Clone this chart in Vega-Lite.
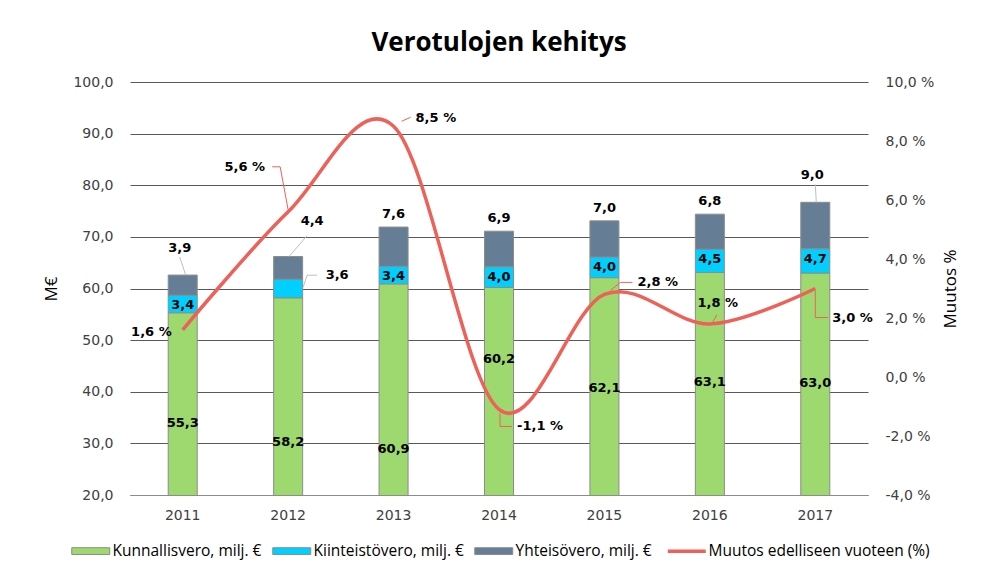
{
  "$schema": "https://vega.github.io/schema/vega-lite/v6.json",
  "width": 738,
  "height": 413,
  "autosize": {"type": "none"},
  "padding": {"left": 130, "top": 82, "right": 118, "bottom": 80},
  "background": "white",
  "config": {
    "locale": {"number": {"decimal": ",", "thousands": "\u00a0", "grouping": [3], "currency": ["", " €"], "minus": "-"}},
    "view": {"stroke": null},
    "font": "DejaVu Sans",
    "axis": {"labelFont": "DejaVu Sans", "labelFontSize": 14, "labelColor": "#404040", "ticks": false, "domain": false, "titleFont": "Liberation Sans Narrow, Open Sans", "titleFontSize": 17, "titleFontWeight": "normal", "titleColor": "#000000"},
    "text": {"font": "DejaVu Sans", "fontSize": 13, "fontWeight": "bold", "color": "#000000", "baseline": "middle"}
  },
  "title": {"text": "Verotulojen kehitys", "font": "Open Sans", "fontSize": 26, "fontWeight": "bold", "color": "#000000", "anchor": "middle", "offset": 19},
  "datasets": {
    "bars": [
      {"year": 2011, "series": "Kunnallisvero, milj. €", "k": 1, "value": 55.3},
      {"year": 2011, "series": "Kiinteistövero, milj. €", "k": 2, "value": 3.4},
      {"year": 2011, "series": "Yhteisövero, milj. €", "k": 3, "value": 3.9},
      {"year": 2012, "series": "Kunnallisvero, milj. €", "k": 1, "value": 58.2},
      {"year": 2012, "series": "Kiinteistövero, milj. €", "k": 2, "value": 3.6},
      {"year": 2012, "series": "Yhteisövero, milj. €", "k": 3, "value": 4.4},
      {"year": 2013, "series": "Kunnallisvero, milj. €", "k": 1, "value": 60.9},
      {"year": 2013, "series": "Kiinteistövero, milj. €", "k": 2, "value": 3.4},
      {"year": 2013, "series": "Yhteisövero, milj. €", "k": 3, "value": 7.6},
      {"year": 2014, "series": "Kunnallisvero, milj. €", "k": 1, "value": 60.2},
      {"year": 2014, "series": "Kiinteistövero, milj. €", "k": 2, "value": 4.0},
      {"year": 2014, "series": "Yhteisövero, milj. €", "k": 3, "value": 6.9},
      {"year": 2015, "series": "Kunnallisvero, milj. €", "k": 1, "value": 62.1},
      {"year": 2015, "series": "Kiinteistövero, milj. €", "k": 2, "value": 4.0},
      {"year": 2015, "series": "Yhteisövero, milj. €", "k": 3, "value": 7.0},
      {"year": 2016, "series": "Kunnallisvero, milj. €", "k": 1, "value": 63.1},
      {"year": 2016, "series": "Kiinteistövero, milj. €", "k": 2, "value": 4.5},
      {"year": 2016, "series": "Yhteisövero, milj. €", "k": 3, "value": 6.8},
      {"year": 2017, "series": "Kunnallisvero, milj. €", "k": 1, "value": 63.0},
      {"year": 2017, "series": "Kiinteistövero, milj. €", "k": 2, "value": 4.7},
      {"year": 2017, "series": "Yhteisövero, milj. €", "k": 3, "value": 9.0}
    ],
    "line": [
      {"year": 2011, "pct": 1.6},
      {"year": 2012, "pct": 5.6},
      {"year": 2013, "pct": 8.5},
      {"year": 2014, "pct": -1.1},
      {"year": 2015, "pct": 2.8},
      {"year": 2016, "pct": 1.8},
      {"year": 2017, "pct": 3.0}
    ]
  },
  "encoding": {
    "x": {"field": "year", "type": "ordinal", "scale": {"paddingInner": 0, "paddingOuter": 0}, "axis": {"title": null, "labelAngle": 0, "domain": true, "domainColor": "#8c8c8c", "labelPadding": 13, "labelColor": "#404040"}}
  },
  "layer": [
    {
      "data": {"name": "bars"},
      "transform": [{"stack": "value", "groupby": ["year"], "sort": [{"field": "k", "order": "ascending"}], "as": ["v0", "v1"]}],
      "encoding": {
        "y": {"field": "v1", "type": "quantitative", "scale": {"domain": [20, 100], "nice": false, "zero": false}, "axis": {"title": "M€", "values": [20, 30, 40, 50, 60, 70, 80, 90, 100], "format": ".1f", "grid": true, "gridColor": "#595959", "gridWidth": 1, "labelPadding": 17, "titlePadding": 12}}
      },
      "layer": [
        {
          "mark": {"type": "bar", "size": 29, "stroke": "#8c8c8c", "strokeWidth": 1, "clip": true},
          "encoding": {
            "y2": {"field": "v0"},
            "color": {"field": "series", "type": "nominal",
              "scale": {"domain": ["Kunnallisvero, milj. €", "Kiinteistövero, milj. €", "Yhteisövero, milj. €", "Muutos edelliseen vuoteen (%)"], "range": ["#9DD96F", "#00D0FF", "#657E96", "#EE6158"]},
              "legend": {"orient": "none", "legendX": -47, "legendY": 461, "direction": "horizontal", "title": null, "padding": 0,
                "labelFont": "Liberation Sans Narrow, Open Sans", "labelFontSize": 15.5, "labelColor": "#000000", "labelLimit": 400,
                "symbolType": "M-1,-0.18H1V0.18H-1Z", "symbolSize": 1444, "labelOffset": 14, "columnPadding": 8, "symbolStrokeWidth": 1, "symbolStrokeColor": "#8c8c8c", "symbolOpacity": 1,
                "encode": {"symbols": {"update": {
                  "shape": {"signal": "datum.value === 'Muutos edelliseen vuoteen (%)' ? 'stroke' : 'M-1,-0.18H1V0.18H-1Z'"},
                  "stroke": {"signal": "datum.value === 'Muutos edelliseen vuoteen (%)' ? '#EE6158' : '#8c8c8c'"},
                  "strokeWidth": {"signal": "datum.value === 'Muutos edelliseen vuoteen (%)' ? 3.5 : 1"}
                }}}
              }
            },
            "order": {"field": "k"}
          }
        },
        {
          "transform": [{"filter": "datum.k == 1 && (datum.year == 2011 || datum.year >= 2015)"}],
          "mark": {"type": "text", "dy": 110},
          "encoding": {"text": {"field": "value", "type": "quantitative", "format": ".1f"}}
        },
        {
          "transform": [{"filter": "datum.k == 1 && datum.year == 2012"}],
          "mark": {"type": "text", "dy": 144},
          "encoding": {"text": {"field": "value", "type": "quantitative", "format": ".1f"}}
        },
        {
          "transform": [{"filter": "datum.k == 1 && datum.year == 2013"}],
          "mark": {"type": "text", "dy": 165},
          "encoding": {"text": {"field": "value", "type": "quantitative", "format": ".1f"}}
        },
        {
          "transform": [{"filter": "datum.k == 1 && datum.year == 2014"}],
          "mark": {"type": "text", "dy": 72},
          "encoding": {"text": {"field": "value", "type": "quantitative", "format": ".1f"}}
        },
        {
          "transform": [{"filter": "datum.k == 2 && datum.year != 2012"}],
          "mark": {"type": "text", "dy": 10},
          "encoding": {"text": {"field": "value", "type": "quantitative", "format": ".1f"}}
        },
        {
          "transform": [{"filter": "datum.k == 2 && datum.year == 2012"}],
          "mark": {"type": "text", "dx": 49, "dy": -4},
          "encoding": {"text": {"field": "value", "type": "quantitative", "format": ".1f"}}
        },
        {
          "transform": [{"filter": "datum.k == 3 && datum.year != 2011 && datum.year != 2012 && datum.year != 2017"}],
          "mark": {"type": "text", "dy": -13},
          "encoding": {"text": {"field": "value", "type": "quantitative", "format": ".1f"}}
        },
        {
          "transform": [{"filter": "datum.k == 3 && (datum.year == 2011 || datum.year == 2017)"}],
          "mark": {"type": "text", "dy": -27, "dx": -3},
          "encoding": {"text": {"field": "value", "type": "quantitative", "format": ".1f"}}
        },
        {
          "transform": [{"filter": "datum.k == 3 && datum.year == 2012"}],
          "mark": {"type": "text", "dy": -35, "dx": 24},
          "encoding": {"text": {"field": "value", "type": "quantitative", "format": ".1f"}}
        },
        {
          "transform": [{"filter": "datum.k == 3 && datum.year == 2011"}],
          "mark": {"type": "rule", "color": "#bfbfbf", "strokeWidth": 1, "xOffset": -3, "yOffset": -18, "x2Offset": 3, "y2Offset": 0},
          "encoding": {"x2": {"field": "year"}, "y2": {"field": "v1"}}
        },
        {
          "transform": [{"filter": "datum.k == 3 && datum.year == 2012"}],
          "mark": {"type": "rule", "color": "#bfbfbf", "strokeWidth": 1, "xOffset": 19, "yOffset": -21, "x2Offset": 1, "y2Offset": 0},
          "encoding": {"x2": {"field": "year"}, "y2": {"field": "v1"}}
        },
        {
          "transform": [{"filter": "datum.k == 3 && datum.year == 2017"}],
          "mark": {"type": "rule", "color": "#bfbfbf", "strokeWidth": 1, "xOffset": 0, "yOffset": -18, "x2Offset": 1, "y2Offset": 0},
          "encoding": {"x2": {"field": "year"}, "y2": {"field": "v1"}}
        },
        {
          "transform": [{"filter": "datum.k == 2 && datum.year == 2012"}],
          "mark": {"type": "rule", "color": "#bfbfbf", "strokeWidth": 1, "xOffset": 29, "yOffset": -4, "x2Offset": 19, "y2Offset": -4},
          "encoding": {"x2": {"field": "year"}, "y2": {"field": "v1"}}
        },
        {
          "transform": [{"filter": "datum.k == 2 && datum.year == 2012"}],
          "mark": {"type": "rule", "color": "#bfbfbf", "strokeWidth": 1, "xOffset": 19, "yOffset": -4, "x2Offset": 15, "y2Offset": 8},
          "encoding": {"x2": {"field": "year"}, "y2": {"field": "v1"}}
        }
      ]
    },
    {
      "data": {"name": "line"},
      "transform": [{"calculate": "format(datum.pct, '.1f') + ' %'", "as": "lbl"}],
      "encoding": {
        "y": {"field": "pct", "type": "quantitative", "scale": {"domain": [-4, 10], "nice": false, "zero": false},
          "axis": {"orient": "right", "title": "Muutos %", "titleAngle": 270, "values": [-4, -2, 0, 2, 4, 6, 8, 10], "labelExpr": "format(datum.value, '.1f') + ' %'", "grid": false, "labelPadding": 17, "titlePadding": 26}}
      },
      "layer": [
        {
          "mark": {"type": "line", "interpolate": "cardinal", "color": "#EE6158", "strokeWidth": 3.5}
        },
        {"transform": [{"filter": "datum.year == 2011"}], "mark": {"type": "text", "align": "right", "dx": -11, "dy": 2}, "encoding": {"text": {"field": "lbl"}}},
        {"transform": [{"filter": "datum.year == 2012"}], "mark": {"type": "text", "align": "right", "dx": -23, "dy": -45}, "encoding": {"text": {"field": "lbl"}}},
        {"transform": [{"filter": "datum.year == 2013"}], "mark": {"type": "text", "align": "left", "dx": 22, "dy": -8}, "encoding": {"text": {"field": "lbl"}}},
        {"transform": [{"filter": "datum.year == 2014"}], "mark": {"type": "text", "align": "left", "dx": 18, "dy": 17}, "encoding": {"text": {"field": "lbl"}}},
        {"transform": [{"filter": "datum.year == 2015"}], "mark": {"type": "text", "align": "left", "dx": 33, "dy": -12}, "encoding": {"text": {"field": "lbl"}}},
        {"transform": [{"filter": "datum.year == 2016"}], "mark": {"type": "text", "align": "center", "dx": 8, "dy": -21}, "encoding": {"text": {"field": "lbl"}}},
        {"transform": [{"filter": "datum.year == 2017"}], "mark": {"type": "text", "align": "left", "dx": 17, "dy": 29}, "encoding": {"text": {"field": "lbl"}}},
        {"transform": [{"filter": "datum.year == 2012"}], "mark": {"type": "rule", "color": "#EE6158", "strokeWidth": 1, "xOffset": -16, "yOffset": -45, "x2Offset": -8, "y2Offset": -45}, "encoding": {"x2": {"field": "year"}, "y2": {"field": "pct"}}},
        {"transform": [{"filter": "datum.year == 2012"}], "mark": {"type": "rule", "color": "#EE6158", "strokeWidth": 1, "xOffset": -8, "yOffset": -45, "x2Offset": 0, "y2Offset": -2}, "encoding": {"x2": {"field": "year"}, "y2": {"field": "pct"}}},
        {"transform": [{"filter": "datum.year == 2013"}], "mark": {"type": "rule", "color": "#EE6158", "strokeWidth": 1, "xOffset": 8, "yOffset": -5, "x2Offset": 17, "y2Offset": -9}, "encoding": {"x2": {"field": "year"}, "y2": {"field": "pct"}}},
        {"transform": [{"filter": "datum.year == 2014"}], "mark": {"type": "rule", "color": "#EE6158", "strokeWidth": 1, "xOffset": 1, "yOffset": 4, "x2Offset": 1, "y2Offset": 17}, "encoding": {"x2": {"field": "year"}, "y2": {"field": "pct"}}},
        {"transform": [{"filter": "datum.year == 2014"}], "mark": {"type": "rule", "color": "#EE6158", "strokeWidth": 1, "xOffset": 1, "yOffset": 17, "x2Offset": 13, "y2Offset": 17}, "encoding": {"x2": {"field": "year"}, "y2": {"field": "pct"}}},
        {"transform": [{"filter": "datum.year == 2015"}], "mark": {"type": "rule", "color": "#EE6158", "strokeWidth": 1, "xOffset": 6, "yOffset": -4, "x2Offset": 16, "y2Offset": -12}, "encoding": {"x2": {"field": "year"}, "y2": {"field": "pct"}}},
        {"transform": [{"filter": "datum.year == 2015"}], "mark": {"type": "rule", "color": "#EE6158", "strokeWidth": 1, "xOffset": 16, "yOffset": -12, "x2Offset": 28, "y2Offset": -12}, "encoding": {"x2": {"field": "year"}, "y2": {"field": "pct"}}},
        {"transform": [{"filter": "datum.year == 2016"}], "mark": {"type": "rule", "color": "#EE6158", "strokeWidth": 1, "xOffset": 3, "yOffset": -2, "x2Offset": 7, "y2Offset": -9}, "encoding": {"x2": {"field": "year"}, "y2": {"field": "pct"}}},
        {"transform": [{"filter": "datum.year == 2017"}], "mark": {"type": "rule", "color": "#EE6158", "strokeWidth": 1, "xOffset": 0, "yOffset": 2, "x2Offset": 0, "y2Offset": 29}, "encoding": {"x2": {"field": "year"}, "y2": {"field": "pct"}}},
        {"transform": [{"filter": "datum.year == 2017"}], "mark": {"type": "rule", "color": "#EE6158", "strokeWidth": 1, "xOffset": 0, "yOffset": 29, "x2Offset": 13, "y2Offset": 29}, "encoding": {"x2": {"field": "year"}, "y2": {"field": "pct"}}}
      ]
    }
  ],
  "resolve": {"scale": {"y": "independent"}, "axis": {"y": "independent"}}
}
